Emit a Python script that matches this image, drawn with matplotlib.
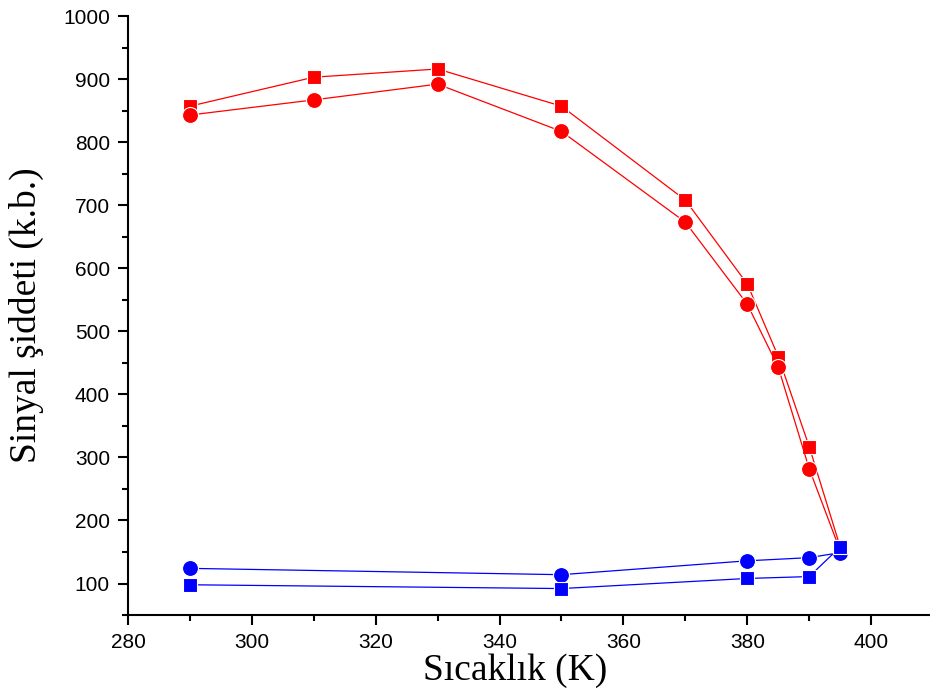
import matplotlib
matplotlib.use("Agg")
import matplotlib.pyplot as plt
from matplotlib.ticker import MultipleLocator

temp_red = [290, 310, 330, 350, 370, 380, 385, 390, 395]
red_squares = [857, 903, 916, 857, 708, 575, 460, 317, 158]
red_circles = [843, 867, 892, 817, 673, 543, 443, 282, 152]

temp_blue = [290, 350, 380, 390, 395]
blue_circles = [124, 114, 136, 141, 149]
blue_squares = [98, 92, 108, 111, 158]

x_ticks = [280, 300, 320, 340, 360, 380, 400]
y_ticks = [100, 200, 300, 400, 500, 600, 700, 800, 900, 1000]

fig = plt.figure(figsize=(9.3, 6.97), dpi=100)
ax = fig.add_axes([0.1376, 0.1176, 0.8624, 0.8594])

lw = 0.9
ax.plot(temp_red, red_squares, color='#ff0000', lw=lw, marker='s', ms=10,
        mec='white', mew=0.8, zorder=3)
ax.plot(temp_red, red_circles, color='#ff0000', lw=lw, marker='o', ms=11.5,
        mec='white', mew=0.8, zorder=3)
ax.plot(temp_blue, blue_circles, color='#0000ff', lw=lw, marker='o', ms=11.5,
        mec='white', mew=0.8, zorder=3)
ax.plot(temp_blue, blue_squares, color='#0000ff', lw=lw, marker='s', ms=10,
        mec='white', mew=0.8, zorder=3)

ax.set_xlim(280, 409.5)
ax.set_ylim(50, 1000)
ax.set_xticks(x_ticks)
ax.set_yticks(y_ticks)
ax.xaxis.set_minor_locator(MultipleLocator(10))
ax.yaxis.set_minor_locator(MultipleLocator(50))

for s in ['top', 'right']:
    ax.spines[s].set_visible(False)
for s in ['left', 'bottom']:
    ax.spines[s].set_linewidth(1.5)
ax.tick_params(which='major', direction='out', length=7, width=1.5,
               labelsize=15, pad=6)
ax.tick_params(which='minor', direction='out', length=4, width=1.5)
for lab in ax.get_xticklabels() + ax.get_yticklabels():
    lab.set_family('Liberation Sans')

ax.set_xlabel('Sıcaklık (K)', family='Liberation Serif', fontsize=27, labelpad=1)
ax.xaxis.label.set_x(0.483)
ax.set_ylabel('Sinyal şiddeti (k.b.)', family='Liberation Serif', fontsize=27, labelpad=14)

fig.savefig('out.png', dpi=100)
